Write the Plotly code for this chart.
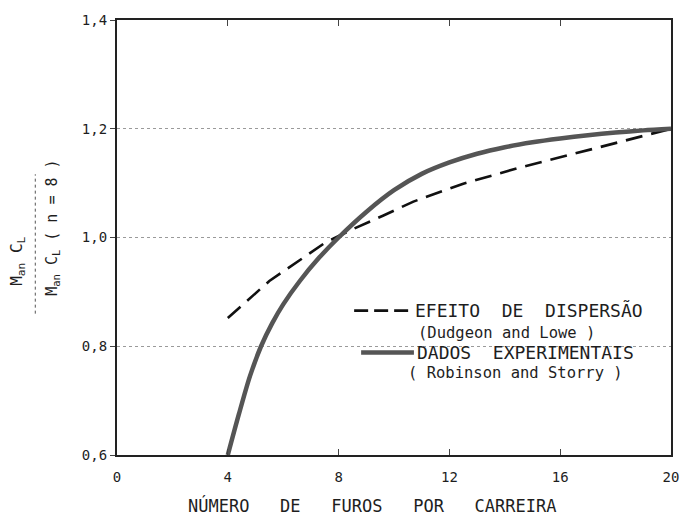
import plotly.graph_objects as go

# ---- data ----
x_exp = [4, 4.4, 4.8, 5.2, 5.6, 6.0, 6.6, 7.3, 8, 9, 10, 11, 12, 13, 14, 15, 16, 17, 18, 19, 20]
y_exp = [0.6, 0.675, 0.745, 0.80, 0.842, 0.877, 0.92, 0.963, 1.0, 1.047, 1.087, 1.117, 1.138,
         1.154, 1.166, 1.175, 1.182, 1.188, 1.193, 1.197, 1.2]

x_disp = [4, 5.5, 7.5, 8.5, 9.6, 10.7, 12.5, 14.5, 16.5, 18.6, 20]
y_disp = [0.852, 0.92, 0.99, 1.015, 1.04, 1.066, 1.099, 1.128, 1.154, 1.182, 1.2]

x_ticks = [0, 4, 8, 12, 16, 20]
x_ticklabels = ["0", "4", "8", "12", "16", "20"]
y_ticks = [0.6, 0.8, 1.0, 1.2, 1.4]
y_ticklabels = ["0,6", "0,8", "1,0", "1,2", "1,4"]

x_title = "NÚMERO   DE   FUROS   POR   CARREIRA"
leg_title_disp = "EFEITO  DE  DISPERSÃO"
leg_src_disp = "(Dudgeon and Lowe )"
leg_title_exp = "DADOS  EXPERIMENTAIS"
leg_src_exp = "( Robinson and Storry )"

FONT = "DejaVu Sans Mono"
INK = "#1e1e1e"
DISP_LINE = dict(color="#111111", width=2.6, dash="17px,9px")
EXP_LINE = dict(color="#555555", width=4.5)

fig = go.Figure()
fig.add_trace(go.Scatter(
    x=x_disp, y=y_disp, mode="lines", name=leg_title_disp, showlegend=False,
    line=DISP_LINE,
))
fig.add_trace(go.Scatter(
    x=x_exp, y=y_exp, mode="lines", name=leg_title_exp, showlegend=False,
    line=dict(**EXP_LINE, shape="spline", smoothing=0.8),
))

W, H = 691, 525
L, R, T, B = 117, 18, 18, 70
pw, ph = W - L - R, H - T - B


def px2paper(px, py):
    return (px - L) / pw, (H - B - py) / ph


fig.update_layout(
    width=W, height=H,
    margin=dict(l=L, r=R, t=T, b=B),
    paper_bgcolor="white", plot_bgcolor="white",
    font=dict(family=FONT, color=INK, size=14),
    showlegend=False,
)

fig.update_xaxes(
    range=[0, 20], tickvals=x_ticks, ticktext=x_ticklabels,
    showline=True, linecolor="#222", linewidth=2.2, mirror="ticks",
    ticks="inside", ticklen=6, tickcolor="#444", tickwidth=1,
    ticklabelstandoff=8,
    showgrid=False, zeroline=False,
    tickfont=dict(family=FONT, size=14, color=INK),
)
fig.update_yaxes(
    range=[0.6, 1.4], tickvals=y_ticks, ticktext=y_ticklabels,
    showline=True, linecolor="#222", linewidth=2.2, mirror=True,
    ticks="outside", ticklen=5, tickcolor="#444", tickwidth=1,
    showgrid=True, gridcolor="#9a9a9a", gridwidth=1, griddash="dot",
    zeroline=False,
    tickfont=dict(family=FONT, size=14, color=INK),
)

# ---- x-axis title (sits slightly left of centre in the original) ----
tx, ty = px2paper(373, 506)
fig.add_annotation(text=x_title, xref="paper", yref="paper", x=tx, y=ty,
                   xanchor="center", yanchor="middle", showarrow=False,
                   font=dict(family=FONT, size=17, color=INK))


# ---- legend drawn by hand (long samples like the original) ----
def leg_text(txt, px, py, size):
    xx, yy = px2paper(px, py)
    fig.add_annotation(text=txt, xref="paper", yref="paper", x=xx, y=yy,
                       xanchor="left", yanchor="middle", showarrow=False,
                       font=dict(family=FONT, size=size, color=INK))


def leg_sample(px0, px1, py, line):
    xa, ya = px2paper(px0, py)
    xb, _ = px2paper(px1, py)
    fig.add_shape(type="line", xref="paper", yref="paper", x0=xa, x1=xb, y0=ya, y1=ya,
                  line=line)


leg_sample(355, 412, 310, dict(color="#111111", width=2.6, dash="14px,6px"))
leg_text(leg_title_disp, 414, 310, 18)
leg_text(leg_src_disp, 417, 332, 15.5)
leg_sample(362, 415, 352, EXP_LINE)
leg_text(leg_title_exp, 416, 352, 18)
leg_text(leg_src_exp, 407, 373, 15.5)

# ---- y-axis title as a fraction ----
xa, ya = px2paper(5, 260)
fig.add_annotation(text="M<sub>an</sub> C<sub>L</sub>", xref="paper", yref="paper",
                   x=xa, y=ya, showarrow=False, textangle=-90,
                   font=dict(family=FONT, size=16, color=INK))
xb, yb = px2paper(40, 227)
fig.add_annotation(text="M<sub>an</sub> C<sub>L</sub> ( n = 8 )", xref="paper", yref="paper",
                   x=xb, y=yb, showarrow=False, textangle=-90,
                   font=dict(family=FONT, size=15, color=INK))
x0, y0 = px2paper(35, 313)
_, y1 = px2paper(35, 173)
fig.add_shape(type="line", xref="paper", yref="paper", x0=x0, x1=x0, y0=y0, y1=y1,
              line=dict(color="#555", width=1, dash="dot"))

fig.write_html("out.html")
